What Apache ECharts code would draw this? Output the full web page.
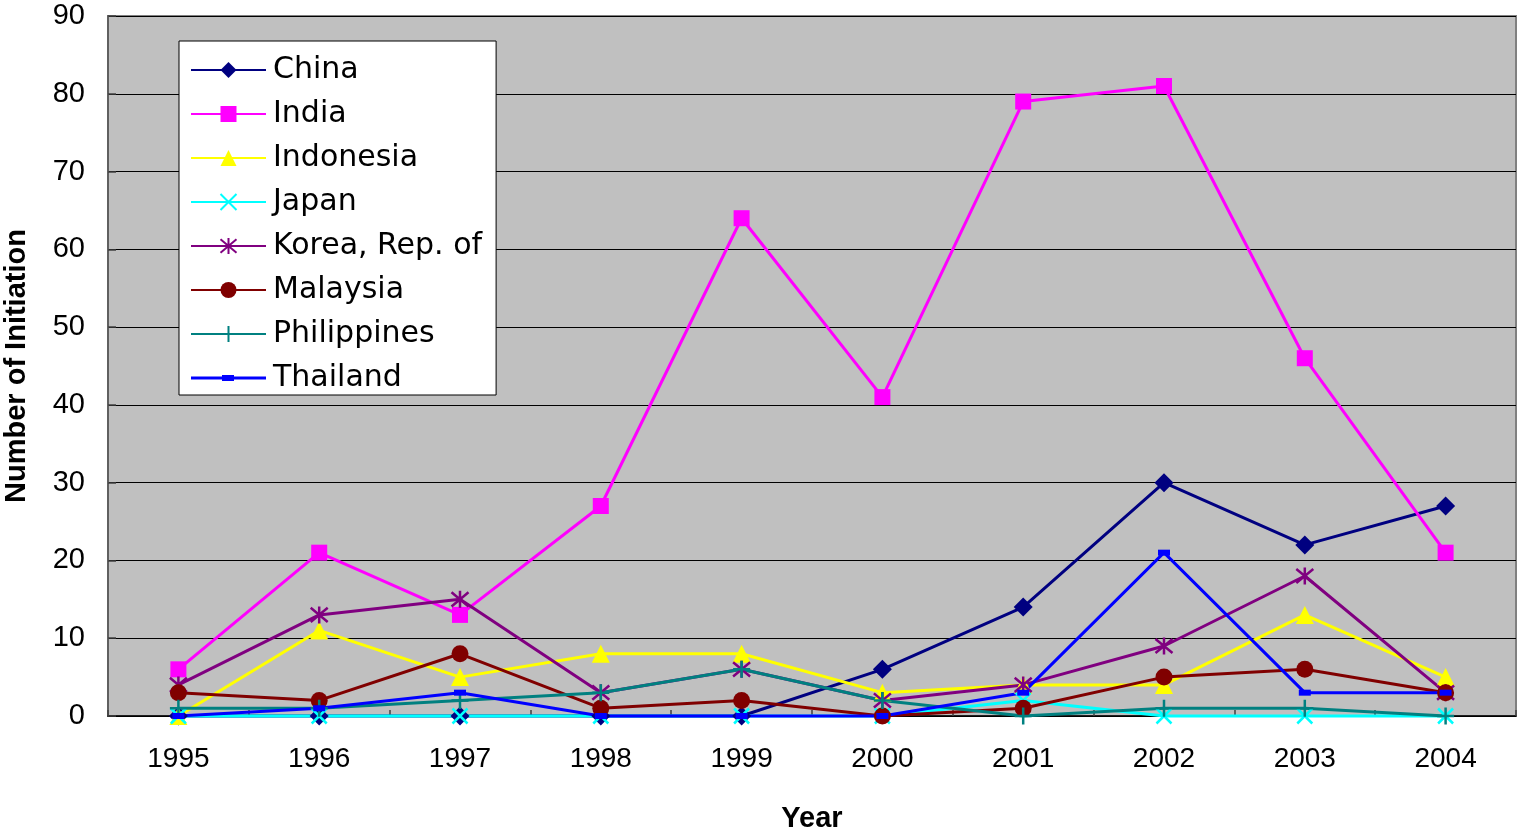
<!DOCTYPE html>
<html>
<head>
<meta charset="utf-8">
<title>Number of Initiation</title>
<script src="https://cdn.jsdelivr.net/npm/echarts@6/dist/echarts.min.js"></script>
<style>
  html, body { margin: 0; padding: 0; background: #fff; }
  #chartmain { width: 1518px; height: 831px; }
</style>
</head>
<body>
<div id="chartmain"></div>
<script type="text/javascript">
// years on the x axis
var years = ['1995', '1996', '1997', '1998', '1999', '2000', '2001', '2002', '2003', '2004'];

// series values
var china       = [0, 0, 0, 0, 0, 6, 14, 30, 22, 27];
var india       = [6, 21, 13, 27, 64, 41, 79, 81, 46, 21];
var indonesia   = [0, 11, 5, 8, 8, 3, 4, 4, 13, 5];
var japan       = [0, 0, 0, 0, 0, 0, 2, 0, 0, 0];
var korea       = [4, 13, 15, 3, 6, 2, 4, 9, 18, 3];
var malaysia    = [3, 2, 8, 1, 2, 0, 1, 5, 6, 3];
var philippines = [1, 1, 2, 3, 6, 2, 0, 1, 1, 0];
var thailand    = [0, 1, 3, 0, 0, 0, 3, 21, 3, 3];

var yMin = 0, yMax = 90, yStep = 10;

var names = ['China', 'India', 'Indonesia', 'Japan', 'Korea, Rep. of', 'Malaysia', 'Philippines', 'Thailand'];
var values = [china, india, indonesia, japan, korea, malaysia, philippines, thailand];
var colors = ['#000080', '#FF00FF', '#FFFF00', '#00FFFF', '#800080', '#800000', '#008080', '#0000FF'];

// excel-like markers
var markers = [
  { symbol: 'diamond', size: 19 },
  { symbol: 'rect', size: 16 },
  { symbol: 'triangle', size: 18 },
  { symbol: 'path://M0,0L10,10M10,0L0,10', size: 15, stroke: true },
  { symbol: 'path://M0,0L10,10M10,0L0,10M5,-1L5,11', size: 17, stroke: true },
  { symbol: 'circle', size: 17 },
  { symbol: 'path://M5,0L5,10M0,5L10,5', size: 17, stroke: true },
  { symbol: 'path://M0,0L12,0L12,6L0,6Z', size: 12, keep: true }
];

// thailand's legend icon: line with a short dash on it (75 x 20 box)
var dashIcon = 'path://M0,0L0.01,0L0,0.01Z M75,20L74.99,20L75,19.99Z ' +
  'M0,8.5L75,8.5L75,11.5L0,11.5Z M31,7L43,7L43,13L31,13Z';

var series = [];
var legendData = [];
for (var i = 0; i < names.length; i++) {
  var m = markers[i];
  var itemStyle = { color: colors[i] };
  if (m.stroke) {
    itemStyle.borderColor = colors[i];
    itemStyle.borderWidth = 2.5;
  }
  series.push({
    name: names[i],
    type: 'line',
    data: values[i],
    symbol: m.symbol,
    symbolSize: m.size,
    symbolKeepAspect: !!m.keep,
    showAllSymbol: true,
    lineStyle: { color: colors[i], width: 3 },
    itemStyle: itemStyle,
    emphasis: { disabled: true },
    clip: false
  });
  legendData.push(m.keep ? { name: names[i], icon: dashIcon } : { name: names[i] });
}

var option = {
  animation: false,
  grid: {
    left: 108, top: 16, right: 2, bottom: 115,
    outerBoundsMode: 'none',
    containLabel: false,
    show: true,
    backgroundColor: '#C0C0C0',
    borderColor: '#808080',
    borderWidth: 2
  },
  legend: {
    orient: 'vertical',
    left: 179, top: 41,
    data: legendData,
    selectedMode: false,
    backgroundColor: '#fff',
    borderColor: '#000',
    borderWidth: 1,
    padding: [14, 14, 2, 11],
    itemWidth: 75,
    itemHeight: 20,
    itemGap: 14,
    textStyle: {
      fontFamily: 'DejaVu Sans',
      fontSize: 30,
      lineHeight: 30,
      color: '#000',
      padding: [0, 0, 0, 2]
    }
  },
  xAxis: {
    type: 'category',
    data: years,
    boundaryGap: true,
    name: 'Year',
    nameLocation: 'middle',
    nameGap: 88,
    nameTextStyle: { fontFamily: 'Liberation Sans', fontWeight: 'bold', fontSize: 29, color: '#000' },
    axisLine: { lineStyle: { color: '#000', width: 1.5 } },
    axisTick: { show: true, inside: true, length: 6, lineStyle: { color: '#404040', width: 1.5 } },
    axisLabel: { margin: 29, fontFamily: 'Liberation Sans', fontSize: 28, color: '#000' }
  },
  yAxis: {
    type: 'value',
    min: yMin, max: yMax, interval: yStep,
    name: 'Number of Initiation',
    nameLocation: 'middle',
    nameGap: 77,
    nameTextStyle: { fontFamily: 'Liberation Sans', fontWeight: 'bold', fontSize: 29, color: '#000' },
    axisLine: { show: true, lineStyle: { color: '#606060', width: 2 } },
    axisTick: { show: true, inside: true, length: 8, lineStyle: { color: '#404040', width: 1.5 } },
    axisLabel: { margin: 23, fontFamily: 'Liberation Sans', fontSize: 29, color: '#000' },
    splitLine: { show: true, lineStyle: { color: '#000', width: 1 } }
  },
  series: series
};

var myChart = echarts.init(document.getElementById('chartmain'));
myChart.setOption(option);
</script>
</body>
</html>
